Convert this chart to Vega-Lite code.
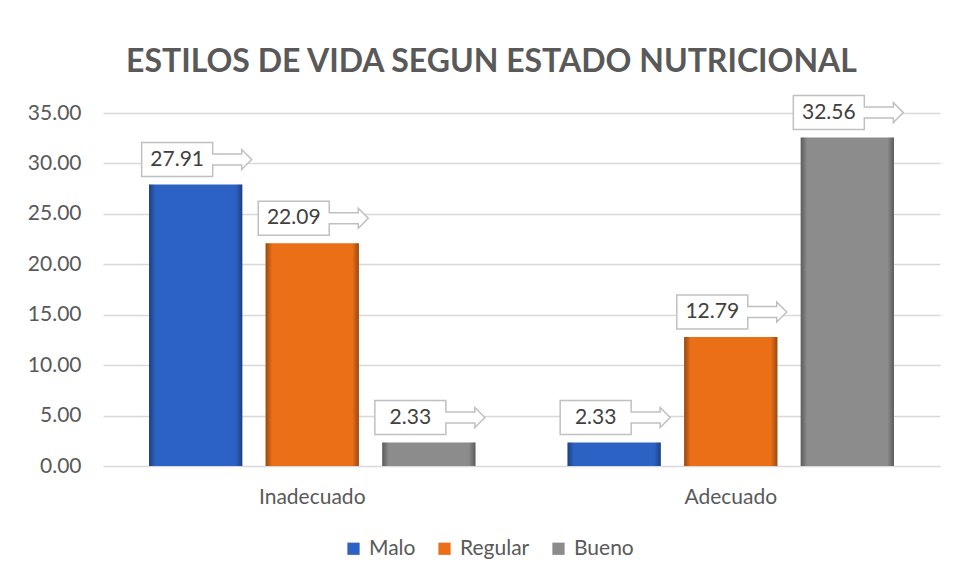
{
  "$schema": "https://vega.github.io/schema/vega-lite/v6.json",
  "width": 837,
  "height": 353,
  "autosize": "none",
  "padding": {"left": 103, "top": 113, "right": 14, "bottom": 113},
  "background": "white",
  "title": {
    "text": "ESTILOS DE VIDA SEGUN ESTADO NUTRICIONAL",
    "font": "Lato",
    "fontSize": 32,
    "fontWeight": "bold",
    "color": "#595959",
    "anchor": "middle",
    "dx": -30,
    "offset": 14
  },
  "data": {
    "values": [
      {"estilo": "Inadecuado", "estado": "Malo", "valor": 27.91},
      {"estilo": "Inadecuado", "estado": "Regular", "valor": 22.09},
      {"estilo": "Inadecuado", "estado": "Bueno", "valor": 2.33},
      {"estilo": "Adecuado", "estado": "Malo", "valor": 2.33},
      {"estilo": "Adecuado", "estado": "Regular", "valor": 12.79},
      {"estilo": "Adecuado", "estado": "Bueno", "valor": 32.56}
    ]
  },
  "encoding": {
    "x": {
      "field": "estilo",
      "type": "nominal",
      "sort": ["Inadecuado", "Adecuado"],
      "scale": {"paddingInner": 0.22, "paddingOuter": 0.11},
      "axis": {
        "title": null,
        "labelAngle": 0,
        "domain": false,
        "ticks": false,
        "labelPadding": 20,
        "labelFont": "Lato",
        "labelFontSize": 21,
        "labelColor": "#595959"
      }
    },
    "xOffset": {
      "field": "estado",
      "type": "nominal",
      "sort": ["Malo", "Regular", "Bueno"],
      "scale": {"paddingInner": 0.2, "paddingOuter": 0}
    },
    "y": {
      "field": "valor",
      "type": "quantitative",
      "scale": {"domain": [0, 35], "nice": false},
      "axis": {
        "title": null,
        "values": [0, 5, 10, 15, 20, 25, 30, 35],
        "format": ".2f",
        "domain": false,
        "ticks": false,
        "labelPadding": 22,
        "labelFont": "Lato",
        "labelFontSize": 21,
        "labelColor": "#595959",
        "gridColor": "#d9d9d9",
        "gridWidth": 1.5
      }
    }
  },
  "layer": [
    {
      "mark": {"type": "bar"},
      "encoding": {
        "color": {
          "field": "estado",
          "type": "nominal",
          "sort": ["Malo", "Regular", "Bueno"],
          "scale": {"domain": ["Malo", "Regular", "Bueno"], "range": ["#2c62c4", "#ea6f17", "#8c8c8c"]},
          "legend": {
            "title": null,
            "orient": "none",
            "legendX": 240,
            "legendY": 425,
            "direction": "horizontal",
            "symbolType": "square",
            "symbolSize": 150,
            "symbolStrokeWidth": 0,
            "labelFont": "Lato",
            "labelFontSize": 21,
            "labelColor": "#595959",
            "labelOffset": 5,
            "columnPadding": 18
          }
        }
      }
    },
    {
      "mark": {
        "type": "bar",
        "fill": {
          "gradient": "linear",
          "x1": 0, "y1": 0, "x2": 1, "y2": 0,
          "stops": [
            {"offset": 0, "color": "rgba(0,0,0,0.35)"},
            {"offset": 0.07, "color": "rgba(0,0,0,0)"},
            {"offset": 0.93, "color": "rgba(0,0,0,0)"},
            {"offset": 1, "color": "rgba(0,0,0,0.35)"}
          ]
        }
      }
    },
    {
      "mark": {
        "type": "point",
        "shape": "M -54 -42 H 17 V -30.5 H 46 V -35 L 56 -25 L 46 -15 V -19.5 H 17 V -8 H -54 Z",
        "size": 4,
        "filled": true,
        "fill": "white",
        "stroke": "#c0c0c0",
        "strokeWidth": 1.5,
        "opacity": 1
      }
    },
    {
      "mark": {
        "type": "text",
        "dx": -18.5,
        "dy": -25,
        "baseline": "middle",
        "align": "center",
        "font": "Lato",
        "fontSize": 21,
        "color": "#404040"
      },
      "encoding": {
        "text": {"field": "valor", "type": "quantitative", "format": ".2f"}
      }
    }
  ],
  "config": {"view": {"stroke": null}}
}
